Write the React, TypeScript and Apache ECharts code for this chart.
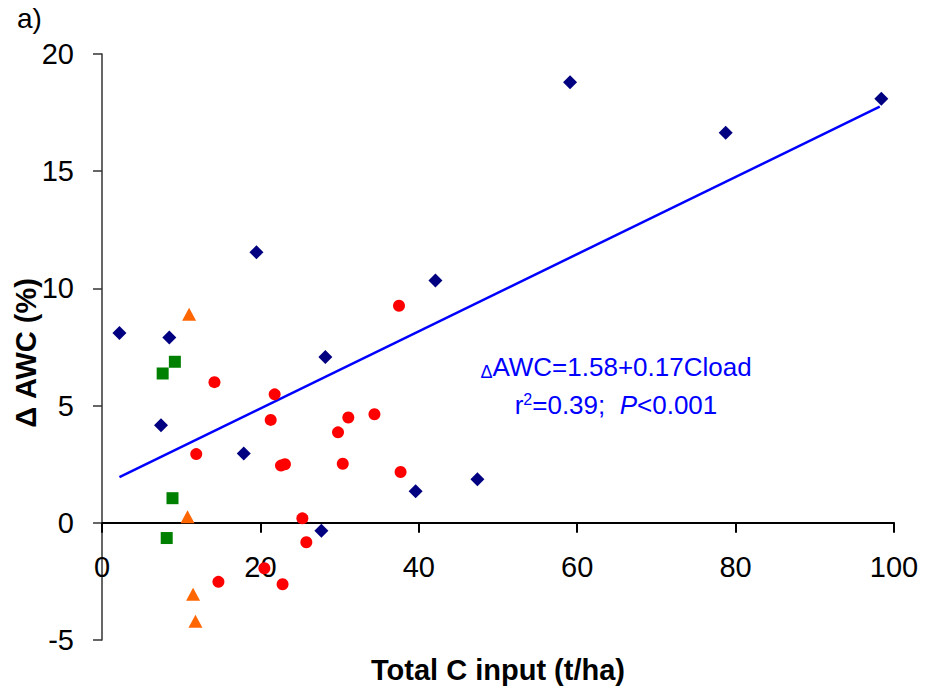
import React, { useEffect, useRef } from "react";
import * as echarts from "echarts";

// Navy diamonds
const diamondX = [2.2, 8.5, 7.45, 17.9, 19.5, 28.2, 27.7, 39.6, 42.1, 47.4, 59.1, 78.75, 98.4];
const diamondY = [8.1, 7.9, 4.16, 2.96, 11.54, 7.07, -0.34, 1.35, 10.34, 1.86, 18.79, 16.64, 18.09];

// Red circles
const circleX = [14.2, 21.8, 21.3, 11.9, 22.6, 23.1, 25.3, 25.8, 20.5, 14.7, 22.8, 37.5, 31.1, 34.4, 29.8, 30.4, 37.7];
const circleY = [6.0, 5.48, 4.39, 2.93, 2.44, 2.5, 0.19, -0.83, -1.94, -2.52, -2.62, 9.26, 4.49, 4.63, 3.86, 2.52, 2.17];

// Green squares
const squareX = [9.2, 7.66, 8.9, 8.17];
const squareY = [6.87, 6.37, 1.05, -0.65];

// Orange triangles
const triangleX = [11.0, 10.8, 11.5, 11.8];
const triangleY = [8.9, 0.26, -3.05, -4.2];

// Trend line end points (as drawn)
const trendX = [2.2, 98.2];
const trendY = [1.95, 17.75];

const xMin = 0, xMax = 100, xStep = 20;
const yMin = -5, yMax = 20, yStep = 5;

const FONT = '"Liberation Sans", Arial, sans-serif';

const zip = (xs: number[], ys: number[]) => xs.map((x, i) => [x, ys[i]]);

export default function App() {
  const ref = useRef<HTMLDivElement>(null);
  useEffect(() => {
    if (!ref.current) return;
    const chart = echarts.init(ref.current, undefined, { renderer: "svg" });
    chart.setOption({
      animation: false,
      backgroundColor: "#fff",
      grid: { left: 102, right: 35, top: 54, bottom: 57, containLabel: false },
      xAxis: {
        type: "value",
        min: xMin,
        max: xMax,
        interval: xStep,
        axisLine: { show: true, onZero: true, lineStyle: { color: "#000", width: 2 } },
        axisTick: { show: true, length: 10, lineStyle: { color: "#000", width: 2 } },
        axisLabel: { fontSize: 29, color: "#000", fontFamily: FONT, margin: -88 },
        splitLine: { show: false },
      },
      yAxis: {
        type: "value",
        min: yMin,
        max: yMax,
        interval: yStep,
        axisLine: { show: true, onZero: false, lineStyle: { color: "#333", width: 1.5 } },
        axisTick: { show: true, length: 9, lineStyle: { color: "#333", width: 1.5 } },
        axisLabel: { fontSize: 29, color: "#000", fontFamily: FONT, margin: 28 },
        splitLine: { show: false },
      },
      series: [
        {
          type: "line",
          data: zip(trendX, trendY),
          symbol: "none",
          lineStyle: { color: "#0000ff", width: 2.5 },
          z: 1,
        },
        {
          type: "scatter",
          data: zip(diamondX, diamondY),
          symbol: "diamond",
          symbolSize: 14,
          itemStyle: { color: "#000080", opacity: 1 },
          z: 3,
        },
        {
          type: "scatter",
          data: zip(circleX, circleY),
          symbol: "circle",
          symbolSize: 12,
          itemStyle: { color: "#ff0000", opacity: 1 },
          z: 3,
        },
        {
          type: "scatter",
          data: zip(squareX, squareY),
          symbol: "rect",
          symbolSize: 12,
          itemStyle: { color: "#008000", opacity: 1 },
          z: 3,
        },
        {
          type: "scatter",
          data: zip(triangleX, triangleY),
          symbol: "triangle",
          symbolSize: [14, 13],
          itemStyle: { color: "#ff6600", opacity: 1 },
          z: 3,
        },
      ],
      graphic: [
        {
          type: "text",
          x: 17,
          y: 18,
          style: {
            text: "a)",
            font: `28px ${FONT}`,
            fill: "#000",
            align: "left",
            verticalAlign: "middle",
            textAlign: "left",
            textVerticalAlign: "middle",
          },
        },
        {
          type: "text",
          x: 26,
          y: 353,
          rotation: Math.PI / 2,
          style: {
            text: "Δ AWC (%)",
            font: `bold 29px ${FONT}`,
            fill: "#000",
            align: "center",
            verticalAlign: "middle",
            textAlign: "center",
            textVerticalAlign: "middle",
          },
        },
        {
          type: "text",
          x: 498,
          y: 670,
          style: {
            text: "Total C input (t/ha)",
            font: `bold 29px ${FONT}`,
            fill: "#000",
            align: "center",
            verticalAlign: "middle",
            textAlign: "center",
            textVerticalAlign: "middle",
          },
        },
        {
          type: "text",
          x: 616,
          y: 367,
          style: {
            text: "{d|Δ}{n|AWC=1.58+0.17Cload}",
            align: "center",
            verticalAlign: "middle",
            textAlign: "center",
            textVerticalAlign: "middle",
            fill: "#0000ff",
            rich: {
              d: { fontSize: 18, fontFamily: FONT, fill: "#0000ff", color: "#0000ff", verticalAlign: "bottom", lineHeight: 27 },
              n: { fontSize: 26, fontFamily: FONT, fill: "#0000ff", color: "#0000ff", lineHeight: 27 },
            },
          },
        },
        {
          type: "text",
          x: 616,
          y: 405,
          style: {
            text: "{n|r}{s|2}{n|=0.39;  }{i|P}{n|<0.001}",
            align: "center",
            verticalAlign: "middle",
            textAlign: "center",
            textVerticalAlign: "middle",
            fill: "#0000ff",
            rich: {
              n: { fontSize: 26, fontFamily: FONT, fill: "#0000ff", color: "#0000ff", lineHeight: 27 },
              s: { fontSize: 16, fontFamily: FONT, fill: "#0000ff", color: "#0000ff", verticalAlign: "top", lineHeight: 27 },
              i: { fontSize: 26, fontFamily: FONT, fontStyle: "italic", fill: "#0000ff", color: "#0000ff", lineHeight: 27 },
            },
          },
        },
      ],
    });
    return () => chart.dispose();
  }, []);
  return (
    <div
      ref={ref}
      style={{ position: "absolute", left: 0, top: 0, width: 929, height: 697, background: "#fff" }}
    />
  );
}
